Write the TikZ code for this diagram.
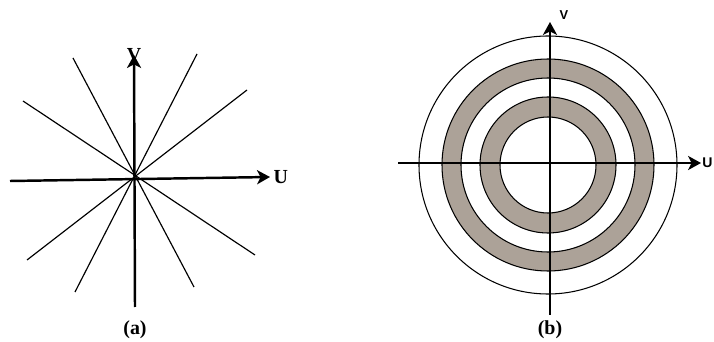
\documentclass[tikz,border=0pt]{standalone}
\usepackage{fontspec}
\setmainfont{Liberation Serif}
\newfontfamily\axisfont{Liberation Sans}
\usetikzlibrary{arrows.meta, positioning}
\definecolor{ringgrey}{RGB}{172, 162, 152}

\begin{document}
\begin{tikzpicture}[x=0.03cm, y=-0.03cm,
    axis/.style={line width=2.1pt, -{Stealth[length=11pt, width=12pt, inset=3pt]}},
    ray/.style={line width=1pt},
    ring/.style={line width=0.9pt},
    caption/.style={font=\fontsize{17}{19}\selectfont\bfseries, inner sep=0pt}]
    \useasboundingbox (0,0) rectangle (714,342);

    % (a) lines through the origin
    \coordinate (oa) at (135,179);
    \coordinate (r1a) at (73,58);   \coordinate (r1b) at (194,287);
    \coordinate (r2a) at (23,101);  \coordinate (r2b) at (255,255);
    \coordinate (r3a) at (197,54);  \coordinate (r3b) at (75,292);
    \coordinate (r4a) at (247,90);  \coordinate (r4b) at (27,260);
    \foreach \r in {1,2,3,4}
        \draw[ray] (r\r a) -- (r\r b);
    \coordinate (ua0) at (10,181);  \coordinate (ua1) at (270,177);
    \coordinate (va0) at (135,307); \coordinate (va1) at (134,55);
    \draw[axis] (ua0) -- (ua1);
    \draw[axis] (va0) -- (va1);
    \node[caption, right=3pt of ua1] (ulab) {U};
    \node[caption, above=-6pt of va1] (vlab) {V};
    \node[caption] (capa) at (135,330) {(a)};

    % (b) rings
    \coordinate (ob) at (548,165);
    \fill[ringgrey, even odd rule] (ob) circle (106) (ob) circle (87);
    \fill[ringgrey, even odd rule] (ob) circle (68) (ob) circle (48);
    \foreach \rad in {129,106,87,68,48}
        \draw[ring] (ob) circle (\rad);
    \coordinate (ub0) at (398,163); \coordinate (ub1) at (701,163);
    \coordinate (vb0) at (550,315); \coordinate (vb1) at (550,22);
    \draw[axis] (ub0) -- (ub1);
    \draw[axis] (vb0) -- (vb1);
    \node[font=\axisfont\fontsize{12}{13}\selectfont\bfseries, inner sep=0pt, right=1pt of ub1] (ulb) {U};
    \node[font=\axisfont\fontsize{11}{12}\selectfont\bfseries, inner sep=0pt] (vlb) at (564,15) {V};
    \node[caption] (capb) at (550,330) {(b)};
\end{tikzpicture}
\end{document}
